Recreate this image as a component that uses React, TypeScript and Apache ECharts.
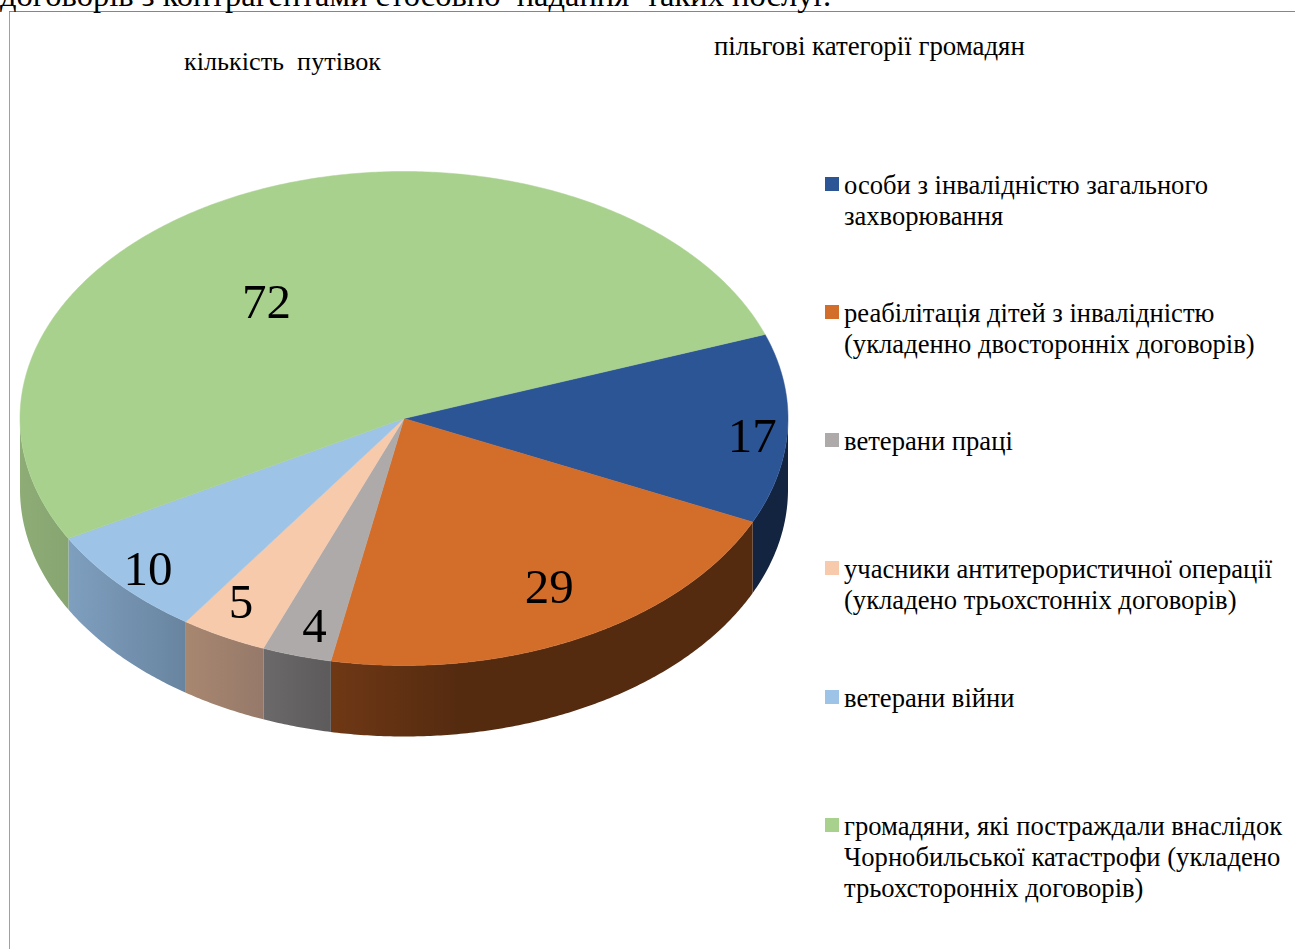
import React, { useEffect, useRef } from "react";
import * as echarts from "echarts";

const categories = [
  "особи з інвалідністю загального\nзахворювання",
  "реабілітація дітей з інвалідністю\n(укладенно двосторонніх договорів)",
  "ветерани праці",
  "учасники антитерористичної операції\n(укладено трьохстонніх договорів)",
  "ветерани війни",
  "громадяни, які постраждали внаслідок\nЧорнобильської катастрофи (укладено\nтрьохсторонніх договорів)",
];
const values = [17, 29, 4, 5, 10, 72];
const topColors = ["#2c5596", "#d26d2a", "#aeaaaa", "#f7caac", "#9dc3e6", "#a9d18e"];
const wallLeft = ["#122440", "#6f3815", "#6b696a", "#a88770", "#7f9fbf", "#8dac76"];
const wallRight = ["#122440", "#552b10", "#5c5a5b", "#96796a", "#68849f", "#86a570"];
const wallStop = [1, 0.3, 1, 1, 1, 1];
const labelRadius = [0.91, 0.784, 0.877, 0.86, 0.906, 0.588];
const labelShift = [2.5, -1.7, -0.8, 1.5, -0.4, -13];

const CX = 404, CY = 418.5, RX = 384, RY = 247, DEPTH = 71;
const START = -19.9;
const SERIF = "'Liberation Serif', 'Times New Roman', serif";
const total = values.reduce((a, b) => a + b, 0);
const pt = (deg: number, dy = 0, k = 1) => [
  CX + RX * k * Math.cos((deg * Math.PI) / 180),
  CY + dy + RY * k * Math.sin((deg * Math.PI) / 180),
];
const arc = (a: number, b: number, dy = 0) => {
  const out: number[][] = [];
  const n = Math.max(2, Math.ceil(Math.abs(b - a) * 2));
  for (let i = 0; i <= n; i++) out.push(pt(a + ((b - a) * i) / n, dy));
  return out;
};

const renderItem = (params: any, api: any) => {
  const i = params.dataIndex;
  const v = api.value(0);
  const before = api.value(1);
  const a = START + (before / total) * 360;
  const b = a + (v / total) * 360;
  const children: any[] = [];
  const wa = Math.max(a, 0);
  const wb = Math.min(b, 180);
  if (wb > wa) {
    const pts = [...arc(wa, wb, 0), ...arc(wb, wa, DEPTH)];
    children.push({
      type: "polygon",
      shape: { points: pts },
      style: {
        fill: new echarts.graphic.LinearGradient(0, 0, 1, 0, [
          { offset: 0, color: wallLeft[i] },
          { offset: wallStop[i], color: wallRight[i] },
          { offset: 1, color: wallRight[i] },
        ]),
      },
    });
  }
  children.push({
    type: "polygon",
    shape: { points: [[CX, CY], ...arc(a, b)] },
    style: { fill: topColors[i], stroke: topColors[i], lineWidth: 0.5 },
    z2: 2,
  });
  const [lx, ly] = pt((a + b) / 2 + labelShift[i], 0, labelRadius[i]);
  children.push({
    type: "text",
    z2: 20,
    style: {
      text: String(v),
      x: lx,
      y: ly - 2,
      fill: "#000",
      fontSize: 49,
      fontFamily: SERIF,
      align: "center",
      verticalAlign: "middle",
    },
  });
  return { type: "group", children };
};

const rowCenters = [186, 314, 442, 570, 699, 827];

export default function App() {
  const ref = useRef<HTMLDivElement>(null);
  useEffect(() => {
    const chart = echarts.init(ref.current!, undefined, { renderer: "svg" });
    let run = 0;
    const data = values.map((v) => {
      const row = [v, run];
      run += v;
      return row;
    });
    const text = (t: string, x: number, y: number, fontSize = 26.6) => ({
      type: "text",
      x,
      y,
      style: { text: t, fill: "#000", fontSize, lineHeight: 31, fontFamily: SERIF, align: "left", verticalAlign: "top" },
    });
    chart.setOption({
      animation: false,
      backgroundColor: "#fff",
      graphic: [
        { type: "line", shape: { x1: 9.5, y1: 12, x2: 9.5, y2: 949 }, style: { stroke: "#a0a0a0", lineWidth: 1 } },
        { type: "line", shape: { x1: 9, y1: 11.5, x2: 1295, y2: 11.5 }, style: { stroke: "#868686", lineWidth: 1 } },
        text("договорів з контрагентами стосовно  надання  таких послуг.", 0, -21, 32.5),
        text("кількість  путівок", 184, 46, 26.2),
        text("пільгові категорії громадян", 714, 30, 26.85),
        ...categories.flatMap((c, i) => [
          { type: "rect", shape: { x: 825, y: rowCenters[i] - 9, width: 14, height: 14 }, style: { fill: topColors[i] } },
          text(c, 844, rowCenters[i] - 16.5),
        ]),
      ],
      series: [
        {
          type: "custom",
          coordinateSystem: "none",
          renderItem,
          data,
          silent: true,
        },
      ],
    });
    return () => chart.dispose();
  }, []);
  return <div ref={ref} style={{ position: "absolute", left: 0, top: 0, width: 1295, height: 949 }} />;
}
